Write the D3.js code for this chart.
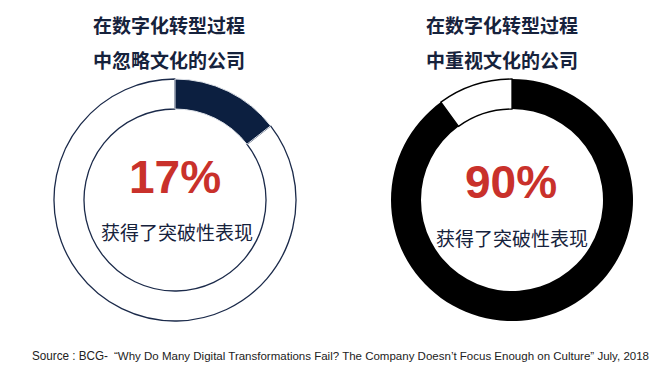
<!DOCTYPE html>
<html>
<head>
<meta charset="utf-8">
<script src="https://cdn.jsdelivr.net/npm/d3@7"></script>
<style>
  html, body { margin: 0; padding: 0; background: #ffffff; }
  svg { display: block; }
</style>
</head>
<body>
<svg id="chart" width="665" height="377"></svg>
<script>
// ---- data ----
const titlesLine1 = ["在数字化转型过程", "在数字化转型过程"];
const titlesLine2 = ["中忽略文化的公司", "中重视文化的公司"];
const percentLabels = [17, 90];            // printed figures
const arcShares = [14.5, 90];              // share of ring filled, as drawn in the picture
const subtitle = ["获得了突破性表现", "获得了突破性表现"];
const sourceLead = "Source : BCG-";
const sourceQuote = "\u201CWhy Do Many Digital Transformations Fail? The Company Doesn\u2019t Focus Enough on Culture\u201D July, 2018";

// ---- styling ----
const fillColors = ["#0c1f40", "#000000"];
const outlineColors = ["#1b2a4a", "#000000"];
const titleColor = "#16223c";
const redColor = "#c9312b";
const cjk = "'Noto Sans CJK SC', 'Noto Sans', sans-serif";

const svg = d3.select("#chart");
const centers = d3.scalePoint().domain([0, 1]).range([175, 512]);
const cy = 200;
const outerR = 121, innerR = 91;

const pie = d3.pie().sort(null).value(d => d);
const arc = d3.arc().innerRadius(innerR).outerRadius(outerR);

[0, 1].forEach(i => {
  const cx = centers(i);
  const g = svg.append("g").attr("transform", `translate(${cx},${cy})`);
  const slices = pie([arcShares[i], 100 - arcShares[i]]);

  // remaining (white) part with outline
  g.append("path")
    .attr("d", arc(slices[1]))
    .attr("fill", "#ffffff")
    .attr("stroke", outlineColors[i])
    .attr("stroke-width", 1.3);

  // filled part
  g.append("path")
    .attr("d", arc(slices[0]))
    .attr("fill", fillColors[i])
    .attr("stroke", i === 0 ? "#dfe3ea" : "none")
    .attr("stroke-width", 1);

  // titles
  const tx = i === 0 ? cx - 6 : cx - 10;
  svg.append("text")
    .attr("x", tx).attr("y", 33)
    .attr("text-anchor", "middle")
    .attr("font-family", cjk).attr("font-weight", 700)
    .attr("font-size", 19).attr("fill", titleColor)
    .text(titlesLine1[i]);
  svg.append("text")
    .attr("x", tx).attr("y", 68)
    .attr("text-anchor", "middle")
    .attr("font-family", cjk).attr("font-weight", 700)
    .attr("font-size", 19).attr("fill", titleColor)
    .text(titlesLine2[i]);

  // big percentage
  g.append("text")
    .attr("x", i === 0 ? 0 : -1)
    .attr("y", i === 0 ? -7 : -2)
    .attr("text-anchor", "middle")
    .attr("font-family", "'Liberation Sans', Arial, sans-serif")
    .attr("font-weight", 700)
    .attr("font-size", 46)
    .attr("fill", redColor)
    .text(percentLabels[i] + "%");

  // subtitle
  g.append("text")
    .attr("x", i === 0 ? 2 : 0)
    .attr("y", i === 0 ? 40 : 46)
    .attr("text-anchor", "middle")
    .attr("font-family", cjk)
    .attr("font-size", 19)
    .attr("fill", titleColor)
    .text(subtitle[i]);
});

// source line
svg.append("text")
  .attr("x", 32).attr("y", 360)
  .attr("fill", "#222222")
  .attr("font-family", "'Liberation Sans', Arial, sans-serif")
  .attr("font-size", 13)
  .attr("textLength", 76)
  .attr("lengthAdjust", "spacingAndGlyphs")
  .text(sourceLead);
svg.append("text")
  .attr("x", 114).attr("y", 360)
  .attr("fill", "#222222")
  .attr("font-family", "'Liberation Sans Narrow', 'Liberation Sans', Arial, sans-serif")
  .attr("font-size", 11)
  .attr("textLength", 535)
  .attr("lengthAdjust", "spacingAndGlyphs")
  .text(sourceQuote);
</script>
</body>
</html>
